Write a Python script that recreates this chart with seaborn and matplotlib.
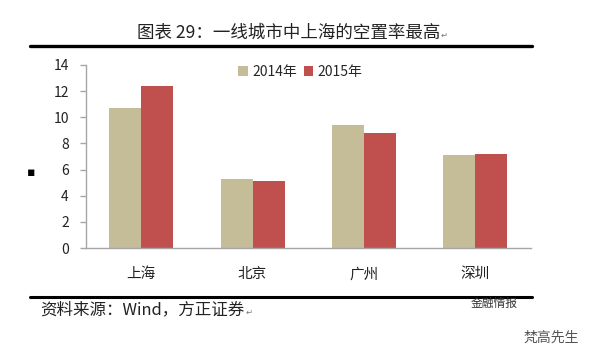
import matplotlib
matplotlib.use("Agg")
import matplotlib.pyplot as plt
import pandas as pd
import seaborn as sns

cities = ["上海", "北京", "广州", "深圳"]
rate_2014 = [10.7, 5.25, 9.4, 7.1]
rate_2015 = [12.4, 5.15, 8.8, 7.2]
years = ["2014年", "2015年"]
colors = ["#C4BD97", "#C0504D"]

sns.set_theme(style="white")
plt.rcParams['font.family'] = ['Noto Sans CJK SC', 'DejaVu Sans']

df = pd.DataFrame({"city": cities * 2,
                   "year": [years[0]] * 4 + [years[1]] * 4,
                   "rate": rate_2014 + rate_2015})

W, H = 597, 363
fig = plt.figure(figsize=(W / 100, H / 100), dpi=100)
ax = fig.add_axes([85.5 / W, 1 - 248 / H, (531 - 85.5) / W, (248 - 65) / H])

sns.barplot(data=df, x="city", y="rate", hue="year", palette=colors, width=0.575,
            saturation=1, gap=0, linewidth=0, ax=ax)

ax.set_xlim(-0.5, 3.5)
ax.set_ylim(0, 14)
ax.set_yticks(range(0, 15, 2))
ax.set_xticks([-0.5, 0.5, 1.5, 2.5, 3.5], minor=False, labels=[""] * 5)
ax.set_xticks(range(4), labels=cities, minor=True)
ax.set_xlabel("")
ax.set_ylabel("")
ax.tick_params(axis="x", which="major", length=4, width=1, color="#A6A6A6", direction="out")
ax.tick_params(axis="x", which="minor", length=0, pad=14, labelsize=10.5, labelcolor="#222222")
ax.tick_params(axis="y", length=4, width=1, color="#A6A6A6", direction="out", labelsize=10,
               labelcolor="#222222", left=True, pad=8)
for side in ["top", "right"]:
    ax.spines[side].set_visible(False)
for side in ["left", "bottom"]:
    ax.spines[side].set_color("#A6A6A6")
    ax.spines[side].set_linewidth(1)

ax.legend(loc="upper center", bbox_to_anchor=(0.482, 1.07), ncol=2, frameon=False, fontsize=10,
          handlelength=0.7, handleheight=0.7, handletextpad=0.3, columnspacing=0.5)

# rules above and below the chart
for y, lw in [(46, 2.4), (297, 2.2)]:
    fig.add_artist(plt.Line2D([30 / W, 532 / W], [1 - y / H] * 2, color="black", lw=lw))

fig.text(137 / W, 1 - 33 / H, "图表 29：一线城市中上海的空置率最高", fontsize=12.6, va="center",
         color="#222222")
fig.text(441 / W, 1 - 35 / H, "↵", fontsize=6, va="center", color="#777777")
fig.text(40 / W, 1 - 310 / H, "资料来源：Wind，方正证券", fontsize=11.9, style="italic", va="center",
         color="#222222")
fig.text(246 / W, 1 - 312 / H, "↵", fontsize=6, va="center", color="#777777")
fig.text(31 / W, 1 - 172 / H, "▪", fontsize=9, va="center", ha="center", color="black",
         family=['DejaVu Sans'])

# watermarks
fig.text(494 / W, 1 - 303 / H, "金融情报", fontsize=8.5, va="center", ha="center", color="#333333")
fig.text(551 / W, 1 - 338 / H, "梵高先生", fontsize=10, va="center", ha="center",
         color="#555555")

fig.savefig("out.png", dpi=100)
